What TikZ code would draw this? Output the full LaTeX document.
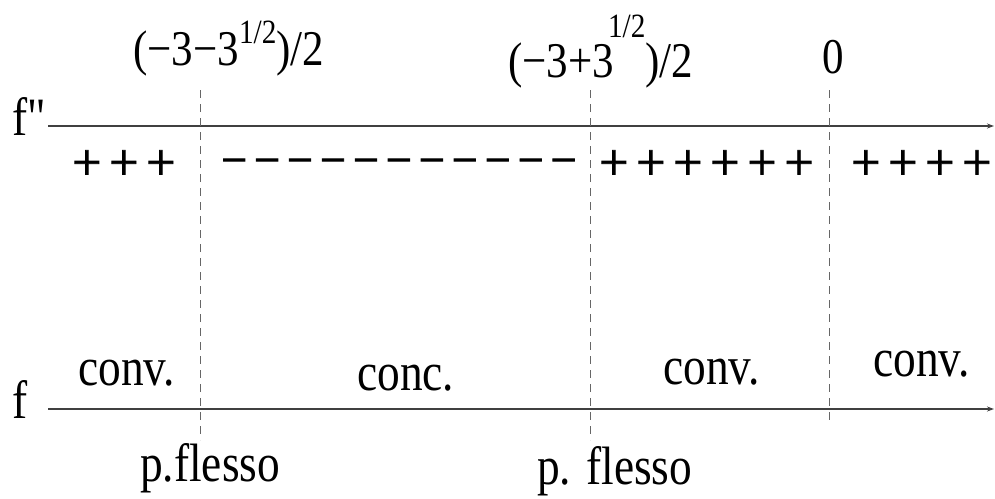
\documentclass[tikz,border=0pt]{standalone}
\usepackage{fontspec}
\setmainfont{Liberation Serif}
\newfontfamily\condfont[FakeStretch=0.84]{Liberation Serif}
\newfontfamily\topfont[FakeStretch=0.86]{Liberation Serif}
\newfontfamily\sgnfont[FakeBold=1.5]{Liberation Serif}
\newfontfamily\minfont[FakeBold=2]{Liberation Serif}
\usetikzlibrary{arrows.meta}
\begin{document}
\begin{tikzpicture}[x=1pt,y=-1pt,
  axis/.style={draw=black!75, line width=1.2pt, -{Stealth[length=7pt,width=5pt]}},
  guide/.style={draw=black!60, line width=0.8pt, dash pattern=on 8pt off 6pt},
  lbl/.style={inner sep=0pt, anchor=base west, font=\condfont\fontsize{54}{58}\selectfont},
  toplbl/.style={inner sep=0pt, anchor=base west, font=\topfont\fontsize{50}{54}\selectfont},
  sgn/.style={inner sep=0pt, anchor=west, font=\sgnfont\fontsize{52}{56}\selectfont},
  msgn/.style={inner sep=0pt, anchor=west, font=\minfont\fontsize{46}{50}\selectfont}]
\useasboundingbox (0,0) rectangle (995,498);
% axes
\coordinate (a1s) at (48,126);
\coordinate (a1e) at (994,126);
\coordinate (a2s) at (48,409);
\coordinate (a2e) at (994,409);
\draw[axis] (a1s) -- (a1e);
\draw[axis] (a2s) -- (a2e);
% guides
\coordinate (d1t) at (200,90);  \coordinate (d1b) at (200,440);
\coordinate (d2t) at (590,90);  \coordinate (d2b) at (590,440);
\coordinate (d3t) at (829,90);  \coordinate (d3b) at (829,425);
\draw[guide] (d1t) -- (d1b);
\draw[guide] (d2t) -- (d2b);
\draw[guide] (d3t) -- (d3b);
% axis names
\node[lbl] (fpp) at (12,135) {f\symbol{34}};
\node[lbl] (f) at (12,418) {f};
% top labels
\node[toplbl] (t1) at (133,65) {(−3−3\raisebox{22pt}{\fontsize{34}{34}\selectfont 1/2})/2};
\node[toplbl] (t2) at (508,77) {(−3+3\hspace{-6pt}\raisebox{40pt}{\fontsize{34}{34}\selectfont 1/2})/2};
\node[toplbl] (t0) at (822,73) {0};
% signs
\node[sgn] (s1) at (72,165) {+\hspace{7.7pt}+\hspace{7.7pt}+};
\node[msgn] (s2) at (221,167) {−\hspace{7pt}−\hspace{7pt}−\hspace{7pt}−\hspace{7pt}−\hspace{7pt}−\hspace{7pt}−\hspace{7pt}−\hspace{7pt}−\hspace{7pt}−\hspace{7pt}−};
\node[sgn] (s3) at (599,165) {+\hspace{7.7pt}+\hspace{7.7pt}+\hspace{7.7pt}+\hspace{7.7pt}+\hspace{7.7pt}+};
\node[sgn] (s4) at (851,165) {+\hspace{7.7pt}+\hspace{7.7pt}+\hspace{7.7pt}+};
% concavity labels
\node[lbl] (cv1) at (78,385) {conv.};
\node[lbl] (cc) at (357,390) {conc.};
\node[lbl] (cv3) at (663,384) {conv.};
\node[lbl] (cv4) at (873,376) {conv.};
\node[lbl] (pf1) at (140,481) {p.flesso};
\node[lbl] (pf2) at (537,484) {p. flesso};
\end{tikzpicture}
\end{document}
